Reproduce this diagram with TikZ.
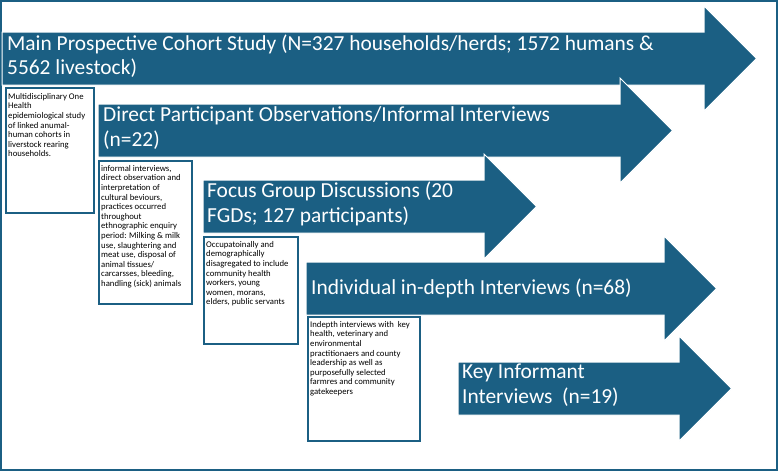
\documentclass[tikz,border=0pt]{standalone}
\usepackage{fontspec}
\setmainfont{Carlito}
\usetikzlibrary{positioning}
\usepackage{xcolor}
\definecolor{cblue}{HTML}{1B5F83}

\tikzset{
  armfill/.style={fill=cblue, draw=white, line width=1pt, line join=miter},
  armtext/.style={text=white, anchor=west, align=left, inner sep=0pt,
                  font=\fontsize{21.4}{24.5}\selectfont},
  notebox/.style={draw=cblue, line width=1.6pt, fill=white,
                  anchor=north west, inner sep=0pt},
  notetext/.style={align=left, inner sep=0pt,
                   font=\fontsize{8.7}{9.6}\selectfont},
}

% arrow: #1 name, #2 left, #3 top of shaft, #4 end of shaft
\newcommand{\phasearrow}[4]{%
  \filldraw[armfill] (#2,#3) coordinate (#1-nw) -- (#4,#3) -- (#4,{#3-26})
    -- ({#4+52.5},{#3+26.5}) coordinate (#1-tip) -- (#4,{#3+79})
    -- (#4,{#3+53}) -- (#2,{#3+53}) coordinate (#1-sw) -- cycle;}

\begin{document}
\begin{tikzpicture}[x=1pt, y=-1pt]
  \useasboundingbox (0,0) rectangle (779,472);
  \draw[cblue, line width=1.2pt] (1,1) rectangle (777,470);

  % the five study arms
  \phasearrow{cohort}{2}{32}{704}
  \node[armtext] (cohortlabel) at (7,56) {Main Prospective Cohort Study (N=327 households/herds; 1572 humans \&\\5562 livestock)};

  \phasearrow{observ}{98}{104}{620}
  \node[armtext] (observlabel) at (103,128) {Direct Participant Observations/Informal Interviews\\(n=22)};

  \phasearrow{fgd}{203}{180}{484}
  \node[armtext] (fgdlabel) at (207,204) {Focus Group Discussions (20\\FGDs; 127 participants)};

  \phasearrow{idi}{306}{262}{664}
  \node[armtext] (idilabel) at (311,288) {Individual in-depth Interviews (n=68)};

  \phasearrow{kii}{458}{362}{679}
  \node[armtext] (kiilabel) at (462,385) {Key Informant\\Interviews\ \ (n=19)};

  % notes under the arrows
  \node[notebox, minimum width=88pt, minimum height=125pt] (cohortbox) at (5,87) {};
  \node[notetext, below right=6pt and 3pt of cohortbox.north west] (cohortnote) {%
    Multidisciplinary One\\Health\\epidemiological study\\of linked anumal-\\human cohorts in\\liverstock rearing\\households.};

  \node[notebox, minimum width=93pt, minimum height=143pt] (observbox) at (98,160) {};
  \node[notetext, below right=5pt and 3pt of observbox.north west] (observnote) {%
    informal interviews,\\direct observation and\\interpretation of\\cultural beviours,\\practices occurred\\throughout\\ethnographic enquiry\\period: Milking \& milk\\use, slaughtering and\\meat use, disposal of\\animal tissues/\\carcarsses, bleeding,\\handling (sick) animals};

  \node[notebox, minimum width=94pt, minimum height=107pt] (fgdbox) at (203,236) {};
  \node[notetext, below right=5pt and 3pt of fgdbox.north west] (fgdnote) {%
    Occupatoinally and\\demographically\\disagregated to include\\community health\\workers, young\\women, morans,\\elders, public servants};

  \node[notebox, minimum width=112pt, minimum height=124pt] (idibox) at (307,316) {};
  \node[notetext, below right=5pt and 3pt of idibox.north west] (idinote) {%
    Indepth interviews with\ \ key\\health, veterinary and\\environmental\\practitionaers and county\\leadership as well as\\purposefully selected\\farmres and community\\gatekeepers};
\end{tikzpicture}
\end{document}
